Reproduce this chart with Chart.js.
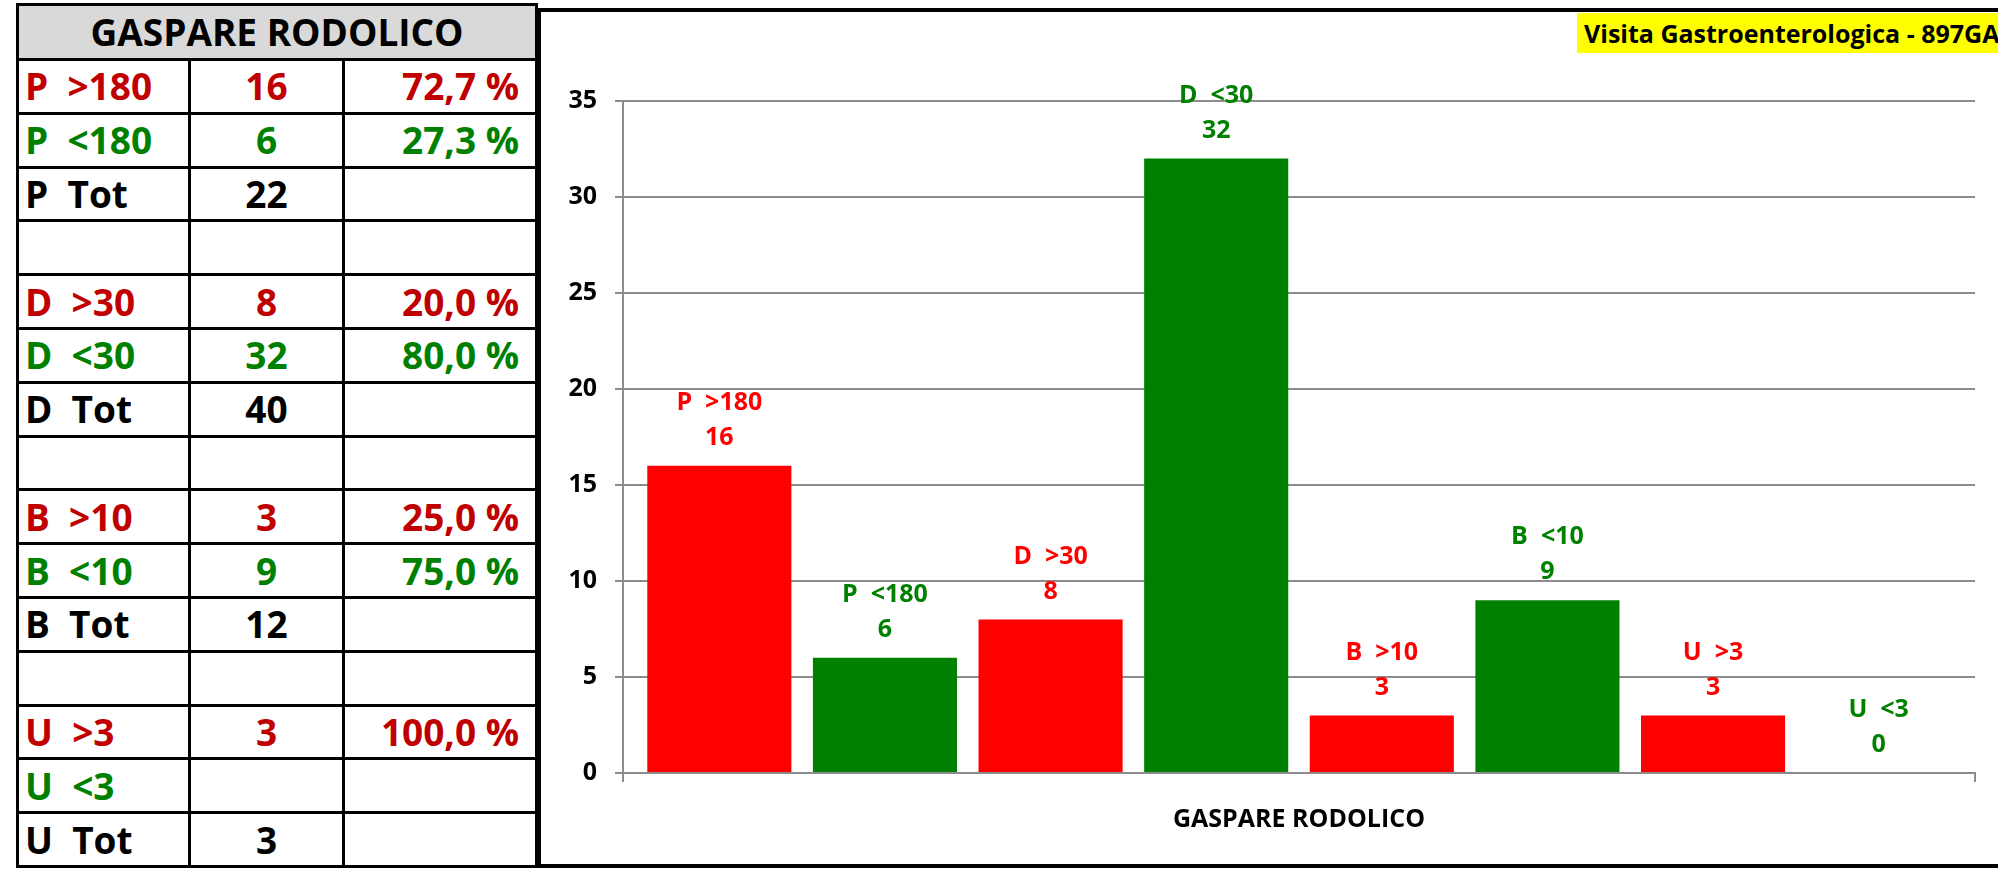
<!DOCTYPE html>
<html>
<head>
<meta charset="utf-8">
<script src="https://cdn.jsdelivr.net/npm/chart.js@4.4.1/dist/chart.umd.min.js"></script>
<style>
  html, body { margin: 0; padding: 0; }
  body { width: 1998px; height: 871px; overflow: hidden; background: #fff; position: relative; font-family: "Open Sans", Lato, sans-serif; }
  #tbl { position: absolute; left: 16px; top: 3px; border-collapse: collapse; table-layout: fixed; width: 519px; }
  #tbl td { border: 3px solid #000; font-weight: bold; font-size: 37px; line-height: 42px; white-space: pre; padding: 0; overflow: hidden; }
  #tbl tr { height: 53.8px; }
  #tbl tr.title { height: 55px; }
  #tbl tr.title td { background: #D9D9D9; text-align: center; font-size: 37px; color: #000; }
  #tbl td.lab { padding-left: 6px; text-align: left; }
  #tbl td.cnt { text-align: center; }
  #tbl td.pct { text-align: right; padding-right: 16px; }
  #frame { position: absolute; left: 537px; top: 8px; width: 1500px; height: 860px; box-sizing: border-box; border: 4px solid #000; }
  #badge { position: absolute; left: 1577px; top: 13px; width: 440px; height: 40px; background: #FFFF00; font-weight: bold; font-size: 25px; line-height: 40px; padding-left: 7px; box-sizing: border-box; color: #000; white-space: pre; }
  #c { position: absolute; left: 0; top: 0; }
</style>
</head>
<body>
<table id="tbl"></table>
<div id="frame"></div>
<canvas id="c" width="1998" height="871"></canvas>
<div id="badge"></div>
<script>
// ---- data ----
const doctorName = 'GASPARE RODOLICO';
const badgeText = 'Visita Gastroenterologica - 897GA';
const categories = ['GASPARE RODOLICO'];
const seriesNames = ['P  >180', 'P  <180', 'D  >30', 'D  <30', 'B  >10', 'B  <10', 'U  >3', 'U  <3'];
const seriesValues = [16, 6, 8, 32, 3, 9, 3, 0];
const seriesKinds = ['hi', 'lo', 'hi', 'lo', 'hi', 'lo', 'hi', 'lo'];
const yTicks = [0, 5, 10, 15, 20, 25, 30, 35];

const tableLabels   = ['P  >180', 'P  <180', 'P  Tot', '', 'D  >30', 'D  <30', 'D  Tot', '', 'B  >10', 'B  <10', 'B  Tot', '', 'U  >3', 'U  <3', 'U  Tot'];
const tableCounts   = ['16', '6', '22', '', '8', '32', '40', '', '3', '9', '12', '', '3', '', '3'];
const tablePercents = ['72,7 %', '27,3 %', '', '', '20,0 %', '80,0 %', '', '', '25,0 %', '75,0 %', '', '', '100,0 %', '', ''];
const tableKinds    = ['hi', 'lo', 'tot', '', 'hi', 'lo', 'tot', '', 'hi', 'lo', 'tot', '', 'hi', 'lo', 'tot'];

// ---- styles ----
const tableColors = { hi: '#C00000', lo: '#008000', tot: '#000000', '': '#000000' };
const barColors = { hi: '#FF0000', lo: '#008000' };
const gridColor = '#8C8C8C';

// ---- table ----
const tbl = document.getElementById('tbl');
const cg = document.createElement('colgroup');
[172, 154, 193].forEach(w => { const c = document.createElement('col'); c.style.width = w + 'px'; cg.appendChild(c); });
tbl.appendChild(cg);
const trT = document.createElement('tr'); trT.className = 'title';
const tdT = document.createElement('td'); tdT.colSpan = 3; tdT.textContent = doctorName; trT.appendChild(tdT);
tbl.appendChild(trT);
tableLabels.forEach((lab, i) => {
  const tr = document.createElement('tr');
  const col = tableColors[tableKinds[i]];
  [[lab, 'lab'], [tableCounts[i], 'cnt'], [tablePercents[i], 'pct']].forEach(([t, cls], j) => {
    const td = document.createElement('td');
    td.className = cls;
    td.textContent = t;
    td.style.color = (j === 1 && tableKinds[i] === 'tot') ? '#000' : col;
    tr.appendChild(td);
  });
  tbl.appendChild(tr);
});
document.getElementById('badge').textContent = badgeText;

// ---- chart ----
const FONT = '"Open Sans", Lato, sans-serif';
const datasets = seriesNames.map((n, i) => ({
  label: n,
  data: [seriesValues[i]],
  backgroundColor: barColors[seriesKinds[i]],
  borderWidth: 0,
  barPercentage: 0.87,
  categoryPercentage: 0.98
}));

const labelPlugin = {
  id: 'barLabels',
  afterDatasetsDraw(chart) {
    const ctx = chart.ctx;
    ctx.save();
    ctx.font = 'bold 25px ' + FONT;
    ctx.textAlign = 'center';
    ctx.textBaseline = 'middle';
    chart.data.datasets.forEach((ds, i) => {
      const meta = chart.getDatasetMeta(i);
      meta.data.forEach((el, j) => {
        ctx.fillStyle = ds.backgroundColor;
        ctx.fillText(String(ds.data[j]), el.x, el.y - 28);
        ctx.fillText(ds.label, el.x, el.y - 63);
      });
    });
    ctx.restore();
  }
};

new Chart(document.getElementById('c'), {
  type: 'bar',
  data: { labels: categories, datasets },
  options: {
    responsive: false,
    animation: false,
    devicePixelRatio: 1,
    layout: { padding: { left: 540, right: 23, top: 101, bottom: 38 } },
    plugins: { legend: { display: false }, tooltip: { enabled: false }, title: { display: false } },
    scales: {
      x: {
        type: 'category',
        grid: { display: true, drawOnChartArea: false, drawTicks: true, tickLength: 9, color: gridColor, lineWidth: 2, offset: true },
        border: { display: true, color: gridColor, width: 2 },
        ticks: { color: '#000', font: { family: FONT, size: 25, weight: 'bold' }, padding: 23, maxRotation: 0 },
        afterFit(scale) { scale.height = 60; }
      },
      y: {
        min: yTicks[0],
        max: yTicks[yTicks.length - 1],
        afterBuildTicks(scale) { scale.ticks = yTicks.map(v => ({ value: v })); },
        grid: { color: gridColor, lineWidth: 2, tickLength: 8, drawTicks: true },
        border: { display: true, color: gridColor, width: 2 },
        ticks: { color: '#000', font: { family: FONT, size: 25, weight: 'bold' }, padding: 18 },
        afterFit(scale) { scale.width = 83; }
      }
    }
  },
  plugins: [labelPlugin]
});
</script>
</body>
</html>
